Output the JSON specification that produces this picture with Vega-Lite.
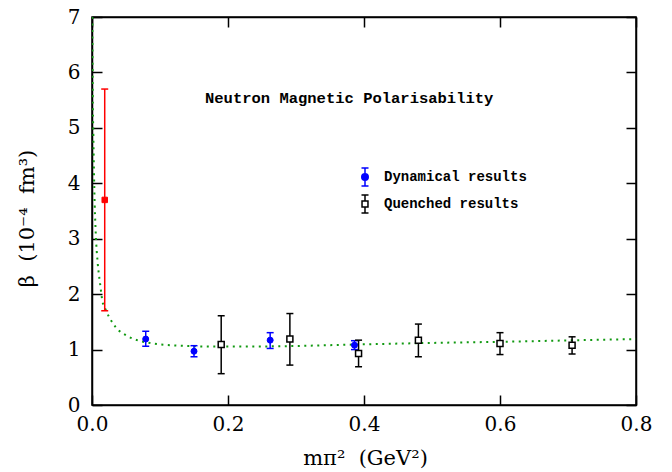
{
  "$schema": "https://vega.github.io/schema/vega-lite/v6.json",
  "width": 544,
  "height": 388,
  "autosize": {"type": "none"},
  "padding": {"left": 92, "top": 17, "right": 36, "bottom": 67},
  "background": "white",
  "title": {
    "text": "Neutron Magnetic Polarisability",
    "anchor": "start",
    "frame": "group",
    "orient": "top",
    "baseline": "middle",
    "offset": 0,
    "dx": 113,
    "dy": 106,
    "font": "Liberation Mono",
    "fontWeight": "bold",
    "fontSize": 15.5,
    "color": "black"
  },
  "datasets": {
    "points": [
      {"series": "Dynamical results", "m2": 0.079, "beta": 1.19, "lo": 1.06, "hi": 1.33},
      {"series": "Dynamical results", "m2": 0.150, "beta": 0.97, "lo": 0.87, "hi": 1.07},
      {"series": "Dynamical results", "m2": 0.262, "beta": 1.17, "lo": 1.02, "hi": 1.305},
      {"series": "Dynamical results", "m2": 0.386, "beta": 1.08, "lo": 1.0, "hi": 1.16},
      {"series": "Quenched results", "m2": 0.190, "beta": 1.09, "lo": 0.565, "hi": 1.61},
      {"series": "Quenched results", "m2": 0.291, "beta": 1.19, "lo": 0.72, "hi": 1.65},
      {"series": "Quenched results", "m2": 0.392, "beta": 0.93, "lo": 0.69, "hi": 1.17},
      {"series": "Quenched results", "m2": 0.480, "beta": 1.17, "lo": 0.87, "hi": 1.46},
      {"series": "Quenched results", "m2": 0.600, "beta": 1.11, "lo": 0.91, "hi": 1.305},
      {"series": "Quenched results", "m2": 0.706, "beta": 1.08, "lo": 0.92, "hi": 1.23},
      {"series": "Extrapolated", "m2": 0.0187, "beta": 3.70, "lo": 1.70, "hi": 5.70}
    ],
    "fit": [
      {"m2": 0.0005, "beta": 7.0},
      {"m2": 0.001, "beta": 5.8},
      {"m2": 0.002, "beta": 4.85},
      {"m2": 0.0035, "beta": 3.85},
      {"m2": 0.0055, "beta": 3.1},
      {"m2": 0.0084, "beta": 2.56},
      {"m2": 0.0118, "beta": 2.2},
      {"m2": 0.0152, "beta": 1.88},
      {"m2": 0.02, "beta": 1.72},
      {"m2": 0.025, "beta": 1.59},
      {"m2": 0.035, "beta": 1.40},
      {"m2": 0.051, "beta": 1.25},
      {"m2": 0.069, "beta": 1.16},
      {"m2": 0.09, "beta": 1.11},
      {"m2": 0.13, "beta": 1.07},
      {"m2": 0.18, "beta": 1.055},
      {"m2": 0.23, "beta": 1.055},
      {"m2": 0.3, "beta": 1.065},
      {"m2": 0.35, "beta": 1.08},
      {"m2": 0.42, "beta": 1.10},
      {"m2": 0.5, "beta": 1.12},
      {"m2": 0.6, "beta": 1.14},
      {"m2": 0.7, "beta": 1.165},
      {"m2": 0.8, "beta": 1.19}
    ]
  },
  "layer": [
    {
      "data": {"name": "fit"},
      "mark": {"type": "line", "color": "#119911", "strokeWidth": 2, "strokeDash": [2, 4.5], "interpolate": "monotone", "clip": true},
      "encoding": {
        "x": {"field": "m2", "type": "quantitative", "scale": {"domain": [0, 0.8], "nice": false},
          "axis": {"orient": "bottom", "values": [0, 0.2, 0.4, 0.6, 0.8], "format": ".1f", "tickSize": -10, "labelPadding": 19, "labelFlush": false,
            "title": "mπ²\u00a0\u00a0(GeV²)", "titleX": 273, "titleY": 59, "titleBaseline": "alphabetic", "titleFontSize": 21}},
        "y": {"field": "beta", "type": "quantitative", "scale": {"domain": [0, 7], "nice": false},
          "axis": {"orient": "left", "values": [0, 1, 2, 3, 4, 5, 6, 7], "format": "d", "tickSize": -10, "labelPadding": 22, "labelFlush": false,
            "title": "β\u00a0\u00a0(10⁻⁴\u00a0\u00a0fm³)", "titleX": -55, "titleY": 201, "titleFontSize": 21}}
      }
    },
    {
      "data": {"name": "points"},
      "mark": {"type": "rule", "strokeWidth": 1.5, "opacity": 1},
      "encoding": {
        "x": {"field": "m2", "type": "quantitative",
          "axis": {"orient": "top", "values": [0, 0.2, 0.4, 0.6, 0.8], "labels": false, "tickSize": -10, "title": null}},
        "y": {"field": "lo", "type": "quantitative",
          "axis": {"orient": "right", "values": [0, 1, 2, 3, 4, 5, 6, 7], "labels": false, "tickSize": -10, "title": null}},
        "y2": {"field": "hi"},
        "color": {"field": "series", "type": "nominal", "scale": {"domain": ["Dynamical results", "Quenched results", "Extrapolated"], "range": ["#0000ff", "#000000", "#ff0000"]}, "legend": null}
      }
    },
    {
      "data": {"name": "points"},
      "mark": {"type": "tick", "orient": "horizontal", "size": 7, "thickness": 1.5, "opacity": 1},
      "encoding": {
        "x": {"field": "m2", "type": "quantitative", "axis": null},
        "y": {"field": "lo", "type": "quantitative", "axis": null},
        "color": {"field": "series", "type": "nominal", "legend": null}
      }
    },
    {
      "data": {"name": "points"},
      "mark": {"type": "tick", "orient": "horizontal", "size": 7, "thickness": 1.5, "opacity": 1},
      "encoding": {
        "x": {"field": "m2", "type": "quantitative", "axis": null},
        "y": {"field": "hi", "type": "quantitative", "axis": null},
        "color": {"field": "series", "type": "nominal", "legend": null}
      }
    },
    {
      "data": {"name": "points"},
      "transform": [{"filter": "datum.series === 'Dynamical results'"}],
      "mark": {"type": "point", "shape": "circle", "filled": true, "fill": "#0000ff", "stroke": "#0000ff", "strokeWidth": 1, "size": 36, "opacity": 1},
      "encoding": {
        "x": {"field": "m2", "type": "quantitative", "axis": null},
        "y": {"field": "beta", "type": "quantitative", "axis": null}
      }
    },
    {
      "data": {"name": "points"},
      "transform": [{"filter": "datum.series === 'Quenched results'"}],
      "mark": {"type": "point", "shape": "square", "filled": true, "fill": "white", "stroke": "black", "strokeWidth": 1.5, "size": 36, "opacity": 1},
      "encoding": {
        "x": {"field": "m2", "type": "quantitative", "axis": null},
        "y": {"field": "beta", "type": "quantitative", "axis": null}
      }
    },
    {
      "data": {"name": "points"},
      "transform": [{"filter": "datum.series === 'Extrapolated'"}],
      "mark": {"type": "point", "shape": "square", "filled": true, "fill": "#ff0000", "stroke": "#ff0000", "strokeWidth": 1, "size": 30, "opacity": 1},
      "encoding": {
        "x": {"field": "m2", "type": "quantitative", "axis": null},
        "y": {"field": "beta", "type": "quantitative", "axis": null}
      }
    },
    {
      "data": {"name": "points"},
      "transform": [{"filter": "false"}],
      "mark": {"type": "point", "filled": true, "strokeWidth": 1.5, "opacity": 1},
      "encoding": {
        "x": {"field": "m2", "type": "quantitative", "axis": null},
        "y": {"field": "beta", "type": "quantitative", "axis": null},
        "shape": {"field": "series", "type": "nominal",
          "scale": {"domain": ["Dynamical results", "Quenched results"],
            "range": ["M-0.36,0A0.36,0.36 0 1,0 0.36,0A0.36,0.36 0 1,0 -0.36,0ZM0,-1L0,1M-0.39,-1L0.39,-1M-0.39,1L0.39,1",
                      "M-0.33,-0.33L0.33,-0.33L0.33,0.33L-0.33,0.33ZM0,-1L0,-0.33M0,0.33L0,1M-0.39,-1L0.39,-1M-0.39,1L0.39,1"]},
          "legend": {"title": null, "orient": "none", "legendX": 263, "legendY": 150}},
        "fill": {"field": "series", "type": "nominal", "scale": {"domain": ["Dynamical results", "Quenched results"], "range": ["#0000ff", "#ffffff"]},
          "legend": {"title": null, "orient": "none", "legendX": 263, "legendY": 150}},
        "stroke": {"field": "series", "type": "nominal", "scale": {"domain": ["Dynamical results", "Quenched results"], "range": ["#0000ff", "#000000"]},
          "legend": {"title": null, "orient": "none", "legendX": 263, "legendY": 150}}
      }
    }
  ],
  "resolve": {"axis": {"x": "independent", "y": "independent"}},
  "config": {
    "view": {"stroke": "black", "strokeWidth": 1.5},
    "axis": {
      "grid": false,
      "domainColor": "black",
      "domainWidth": 1.5,
      "tickColor": "black",
      "tickWidth": 1.5,
      "labelColor": "black",
      "labelFont": "DejaVu Serif",
      "labelFontSize": 20,
      "titleFont": "DejaVu Serif",
      "titleFontSize": 20,
      "titleFontWeight": "normal",
      "titleColor": "black"
    },
    "legend": {
      "labelFont": "Liberation Mono",
      "labelFontWeight": "bold",
      "labelFontSize": 14,
      "labelColor": "black",
      "symbolSize": 324,
      "symbolStrokeWidth": 1.5,
      "rowPadding": 3,
      "labelOffset": 9,
      "padding": 0
    }
  }
}
